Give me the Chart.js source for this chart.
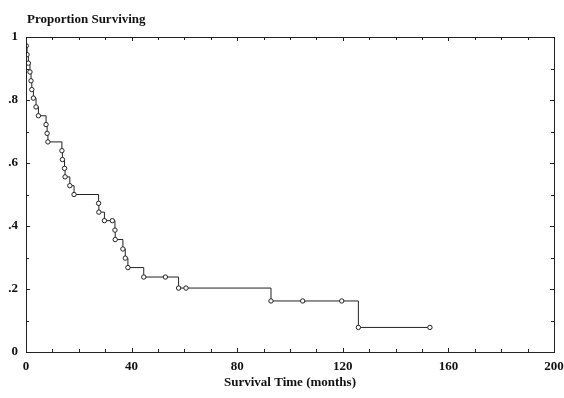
<!DOCTYPE html>
<html>
<head>
<meta charset="utf-8">
<script src="https://cdn.jsdelivr.net/npm/chart.js@4.4.1/dist/chart.umd.min.js"></script>
<style>
  html, body { margin: 0; padding: 0; background: #fff; }
  #wrap { width: 564px; height: 398px; }
</style>
</head>
<body>
<div id="wrap"><canvas id="c" width="564" height="398"></canvas></div>
<script>
// Survival times (months) of each step / mark
const times = [0, 0.1, 0.4, 0.9, 1.5, 1.9, 2.2, 2.8, 3.8, 4.7, 7.6, 8.0, 8.3,
  13.6, 13.8, 14.6, 14.8, 16.6, 18.2, 27.5, 27.6, 29.7, 32.7, 33.7, 33.8,
  36.7, 37.6, 38.6, 44.6, 52.8, 57.8, 60.6, 92.8, 104.8, 119.6, 125.9, 153.0];
// Proportion surviving at each time
const survival = [1, 0.972, 0.944, 0.917, 0.889, 0.861, 0.833, 0.806, 0.778, 0.750, 0.722, 0.694, 0.667,
  0.639, 0.611, 0.583, 0.556, 0.528, 0.500, 0.472, 0.444, 0.417, 0.417, 0.387, 0.357,
  0.327, 0.298, 0.268, 0.238, 0.238, 0.203, 0.203, 0.162, 0.162, 0.162, 0.078, 0.078];
// Whether each time carries a circle marker
const marked = [0, 1, 1, 1, 1, 1, 1, 1, 1, 1, 1, 1, 1,
  1, 1, 1, 1, 1, 1, 1, 1, 1, 1, 1, 1,
  1, 1, 1, 1, 1, 1, 1, 1, 1, 1, 1, 1];
// Axis tick labels
const xTickValues = [0, 40, 80, 120, 160, 200];
const yTickLabels = ['0', '.2', '.4', '.6', '.8', '1'];
const yTitle = 'Proportion Surviving';
const xTitle = 'Survival Time (months)';

const SERIF = '"Liberation Serif", "DejaVu Serif", serif';

const points = times.map((t, i) => ({ x: t, y: survival[i] }));

const framePlugin = {
  id: 'frame',
  afterDraw(chart) {
    const ctx = chart.ctx;
    const a = chart.chartArea;
    const xs = chart.scales.x, ys = chart.scales.y;
    ctx.save();
    ctx.strokeStyle = '#222';
    ctx.lineWidth = 1;
    ctx.strokeRect(Math.round(a.left) + 0.5, Math.round(a.top) + 0.5,
      Math.round(a.right - a.left), Math.round(a.bottom - a.top));
    ctx.beginPath();
    for (let v = 0; v <= 200; v += 10) {
      const px = Math.round(xs.getPixelForValue(v)) + 0.5;
      const len = v % 40 === 0 ? 4 : 3;
      ctx.moveTo(px, a.bottom); ctx.lineTo(px, a.bottom - len);
      ctx.moveTo(px, a.top); ctx.lineTo(px, a.top + len);
    }
    for (let k = 0; k <= 10; k++) {
      const py = Math.round(ys.getPixelForValue(k / 10)) + 0.5;
      const len = k % 2 === 0 ? 4 : 3;
      ctx.moveTo(a.left, py); ctx.lineTo(a.left + len, py);
      ctx.moveTo(a.right, py); ctx.lineTo(a.right - len, py);
    }
    ctx.stroke();
    ctx.fillStyle = '#111';
    ctx.font = 'bold 13px ' + SERIF;
    ctx.textAlign = 'left';
    ctx.textBaseline = 'middle';
    ctx.fillText(yTitle, 27, 20);
    ctx.restore();
  }
};

new Chart(document.getElementById('c'), {
  type: 'line',
  data: {
    datasets: [{
      data: points,
      stepped: true,
      borderColor: '#222',
      borderWidth: 1,
      pointRadius: marked.map(m => m ? 2.2 : 0),
      pointBorderWidth: 1,
      pointBorderColor: '#222',
      pointBackgroundColor: '#fff',
      fill: false,
      tension: 0
    }]
  },
  options: {
    responsive: false,
    animation: false,
    events: [],
    layout: { padding: { top: 37, right: 10, left: 0, bottom: 0 } },
    plugins: { legend: { display: false }, tooltip: { enabled: false }, title: { display: false } },
    scales: {
      x: {
        type: 'linear',
        min: 0, max: 200,
        afterFit(scale) { scale.height = 46; scale.paddingLeft = 0; scale.paddingRight = 0; },
        afterBuildTicks(scale) { scale.ticks = xTickValues.map(v => ({ value: v })); },
        grid: { display: false, drawTicks: false },
        border: { display: false },
        ticks: {
          padding: 7,
          color: '#111',
          font: { family: SERIF, size: 13, weight: 'bold' },
          maxRotation: 0,
          callback: v => String(v)
        },
        title: {
          display: true,
          text: xTitle,
          color: '#111',
          font: { family: SERIF, size: 13, weight: 'bold' },
          padding: { top: 0, bottom: 8 }
        }
      },
      y: {
        type: 'linear',
        min: 0, max: 1,
        afterFit(scale) { scale.width = 26; scale.paddingTop = 0; scale.paddingBottom = 0; },
        afterBuildTicks(scale) { scale.ticks = yTickLabels.map((s, i) => ({ value: i * 0.2 })); },
        grid: { display: false, drawTicks: false },
        border: { display: false },
        ticks: {
          padding: 8,
          color: '#111',
          font: { family: SERIF, size: 13, weight: 'bold' },
          callback: (v, i) => yTickLabels[i]
        }
      }
    }
  },
  plugins: [framePlugin]
});
</script>
</body>
</html>
